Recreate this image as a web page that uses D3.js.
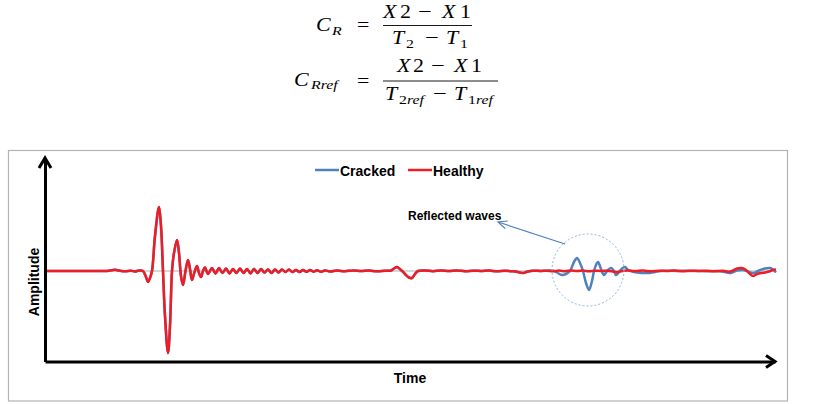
<!DOCTYPE html>
<html>
<head>
<meta charset="utf-8">
<script src="https://cdn.jsdelivr.net/npm/d3@7"></script>
<style>
  body { margin: 0; background: #fff; }
  svg { display: block; }
</style>
</head>
<body>
<svg id="chart" width="820" height="404"></svg>
<script>
// both traces coincide up to the reflection, so they share this part
const earlyTime = [0, 55, 62, 68, 72, 78, 84, 88, 92, 96, 99, 101, 103, 105, 108, 112, 114, 116, 118, 121,
  123, 125, 127, 130, 132, 134, 136, 138.5, 141, 143, 145, 147.5, 150, 152, 154, 156, 158, 161, 165, 168.5,
  172, 175.5, 179, 182.5, 186, 189.5, 193, 196.5, 200, 203.5, 207, 210.5, 214, 217.5, 221, 224.5, 228, 231.5,
  235, 238.5, 242, 245.5, 249, 252.5, 256, 259.5, 263, 266.5, 270, 274, 278, 283, 290, 298, 306, 314, 322,
  330, 338, 344, 347, 350, 354, 358, 362, 365, 368, 371, 378, 386, 394, 402, 410, 418, 426, 434, 442, 450,
  458, 466, 472, 476, 480, 486, 494, 500];
const earlyAmp = [0, 0, 0.3, 1.2, 0.5, -0.2, 0.3, -0.5, 0.4, 0, -6, -11, -7, 0, 35, 64, 45, 0, -45, -82,
  -55, 0, 18, 31, 18, -5, -14, 0, 11, 2, -9, -1, 5, -2, -6, 0, 3.5, -3, 3, -2.5,
  3, -2, 2.5, -2.5, 2, -2, 2.5, -2, 2, -2.5, 2, -2, 2, -1.5, 1.5, -2, 1.5, -1.5,
  1.5, -1, 1.5, -1, 1, -1, 1, -0.8, 1, -0.7, 0.8, -0.8, 0.6, -0.5, 0.5, -0.3, 0.6, 0, 0.5,
  -0.3, 0.3, 0.5, 2.5, 4, 1, -3, -6.5, -7, -3, 0, 0.6, -0.2, 0.5, 0, 0.6, -0.3, 0.3, 0, 0.4, -0.3,
  0.2, -0.3, -1.2, -2, -0.8, 0.3, 0, 0.3];

const healthyTime = [506, 512, 518, 524, 530, 536, 542, 548, 554, 560, 566, 570, 574, 580, 588, 596, 604, 612,
  620, 628, 636, 644, 652, 660, 668, 676, 682, 686, 690, 695, 699, 703, 706, 710, 714, 718, 722, 726, 729];
const healthyAmp = [-0.3, 0.4, -0.2, 0.5, 0, 0.4, -0.3, 0.3, 0, 0.3, -0.5, -1.2, -0.3, 0.4, 0, 0.4, -0.2, 0.3,
  0, 0.4, -0.2, 0.3, 0, 0.3, -0.2, 0.2, -0.8, 0.5, 2.5, 3, 1, -3, -5, -3, -2, -1.5, -0.5, 1, 1.5];

const crackedTime = [506, 510, 515, 519, 523, 527, 530, 533, 536, 539, 542, 545, 547, 549, 551, 554, 557, 560,
  564, 567, 569, 572, 575, 578, 581, 585, 590, 595, 602, 608, 614, 622, 630, 640, 650, 660, 670, 678, 684,
  690, 696, 702, 707, 712, 718, 723, 726, 729];
const crackedAmp = [0.5, -1.5, -4, -3, 0, 9, 13, 8, 0, -12, -19, -10, 0, 6, 9, 2, -4, 0,
  3, 0, -4, -1, 2.5, 4, 1, -0.5, -1.5, -2, -2, -1, 0, 0.3, 0, 0.3, 0, -0.3, 0, -1, -2,
  0.5, 1, -1, -2, 0.5, 2.5, 3, 1.5, -1.5];

const seriesNames = ["Cracked", "Healthy"];
const seriesColors = ["#4f81bd", "#ee1c24"];

const svg = d3.select("#chart");

// ---- formulas above the chart ----
// the reference formula image is a bit stretched sideways, hence the scale
const serif = "'Liberation Serif', 'DejaVu Serif', serif";
function piece(x, y, txt, italic, size) {
  return svg.append("text")
    .attr("transform", `translate(${x},${y}) scale(1.22,1)`)
    .attr("font-family", serif)
    .attr("font-size", size || 18)
    .attr("font-style", italic ? "italic" : "normal")
    .attr("fill", "#000")
    .text(txt);
}
function bar(x1, x2, y) {
  svg.append("line").attr("x1", x1).attr("x2", x2).attr("y1", y).attr("y2", y)
    .attr("stroke", "#000").attr("stroke-width", 0.9);
}
function sub(x, y, digit, rest) {
  const t = piece(x, y, digit, false, 13);
  t.append("tspan").attr("font-style", "italic").text(rest);
}

// C_R = (X2 - X1) / (T2 - T1)
piece(316, 31, "C", true);
piece(332, 35, "R", true, 13);
piece(357, 31, "=", false);
piece(383, 18, "X", true); piece(400, 18, "2"); piece(418, 18, "\u2212", false, 20);
piece(442, 18, "X", true); piece(460, 18, "1");
bar(383, 472, 25.5);
piece(392, 44, "T", true); piece(406, 48, "2", false, 13); piece(425, 44, "\u2212", false, 20);
piece(446, 44, "T", true); piece(460, 48, "1", false, 13);

// C_Rref = (X2 - X1) / (T2ref - T1ref)
piece(294, 86, "C", true);
piece(311, 89, "Rref", true, 13);
piece(357, 87, "=", false);
piece(397, 72, "X", true); piece(413, 72, "2"); piece(431, 72, "\u2212", false, 20);
piece(454, 72, "X", true); piece(471, 72, "1");
bar(383, 498, 81);
piece(385, 100, "T", true);
sub(399, 104, "2", "ref");
piece(433, 100, "\u2212", false, 20);
piece(454, 100, "T", true);
sub(468, 104, "1", "ref");

// ---- chart box ----
svg.append("rect")
  .attr("x", 8.5).attr("y", 150.5).attr("width", 779).attr("height", 250.5)
  .attr("fill", "#fff").attr("stroke", "#b3b3b3").attr("stroke-width", 1.2);

const x = d3.scaleLinear().domain([-2, 728]).range([45, 775]);
const y = d3.scaleLinear().domain([-90.5, 113]).range([361.5, 158]);

// zero line in light grey
svg.append("line")
  .attr("x1", x(-2)).attr("x2", x(728)).attr("y1", y(0)).attr("y2", y(0))
  .attr("stroke", "#c8c8c8").attr("stroke-width", 1.5);

const line = d3.line()
  .x(d => x(d[0]))
  .y(d => y(d[1]))
  .curve(d3.curveCatmullRom.alpha(0.5));

const early = earlyTime.map((t, i) => [t, earlyAmp[i]]);
const cracked = early.concat(crackedTime.map((t, i) => [t, crackedAmp[i]]));
const healthy = early.concat(healthyTime.map((t, i) => [t, healthyAmp[i]]));

svg.append("path").datum(cracked)
  .attr("d", line).attr("fill", "none")
  .attr("stroke", seriesColors[0]).attr("stroke-width", 2.5).attr("stroke-linejoin", "round");
svg.append("path").datum(healthy)
  .attr("d", line).attr("fill", "none")
  .attr("stroke", seriesColors[1]).attr("stroke-width", 2.5).attr("stroke-linejoin", "round");

// ---- axes with arrow heads, no ticks ----
svg.append("g")
  .attr("transform", "translate(0," + y(-90.5) + ")")
  .call(d3.axisBottom(x).tickValues([]).tickSizeOuter(0));
svg.append("g")
  .attr("transform", "translate(" + x(-2) + ",0)")
  .call(d3.axisLeft(y).tickValues([]).tickSizeOuter(0));
svg.selectAll(".domain").attr("stroke", "#000").attr("stroke-width", 3);

const x0 = x(-2), y0 = y(-90.5), xEnd = x(728), yEnd = y(113);
svg.append("path")
  .attr("d", `M${xEnd - 9},${y0 - 6}L${xEnd},${y0}L${xEnd - 9},${y0 + 6}`)
  .attr("fill", "none").attr("stroke", "#000").attr("stroke-width", 3);
svg.append("path")
  .attr("d", `M${x0 - 6},${yEnd + 10}L${x0},${yEnd}L${x0 + 6},${yEnd + 10}`)
  .attr("fill", "none").attr("stroke", "#000").attr("stroke-width", 3);

const sans = "'Liberation Sans', Arial, sans-serif";
svg.append("text")
  .attr("x", 410).attr("y", 383)
  .attr("text-anchor", "middle")
  .attr("font-family", sans).attr("font-weight", "bold").attr("font-size", 14)
  .text("Time");
svg.append("text")
  .attr("transform", "translate(39,282) rotate(-90)")
  .attr("text-anchor", "middle")
  .attr("font-family", sans).attr("font-weight", "bold").attr("font-size", 14)
  .text("Amplitude");

// ---- legend ----
const legendX = [315, 408];
seriesNames.forEach((name, i) => {
  svg.append("line")
    .attr("x1", legendX[i]).attr("x2", legendX[i] + 24).attr("y1", 170).attr("y2", 170)
    .attr("stroke", seriesColors[i]).attr("stroke-width", 2.5);
  svg.append("text")
    .attr("x", legendX[i] + 25).attr("y", 176)
    .attr("font-family", sans).attr("font-weight", "bold").attr("font-size", 14)
    .attr("fill", "#000")
    .text(name);
});

// ---- annotation: circle around the reflected waves ----
const cx = x(541), cy = y(1);
svg.append("circle")
  .attr("cx", cx).attr("cy", cy).attr("r", 36)
  .attr("fill", "none").attr("stroke", "#8db4e2").attr("stroke-width", 1)
  .attr("stroke-dasharray", "2,2");

const tip = [498, 222], from = [565, 244];
const len = Math.hypot(from[0] - tip[0], from[1] - tip[1]);
const ux = (from[0] - tip[0]) / len, uy = (from[1] - tip[1]) / len;
svg.append("line")
  .attr("x1", from[0]).attr("y1", from[1]).attr("x2", tip[0]).attr("y2", tip[1])
  .attr("stroke", "#4f81bd").attr("stroke-width", 1.2);
svg.append("path")
  .attr("d", `M${tip[0] + 9 * ux - 4 * uy},${tip[1] + 9 * uy + 4 * ux}L${tip[0]},${tip[1]}L${tip[0] + 9 * ux + 4 * uy},${tip[1] + 9 * uy - 4 * ux}`)
  .attr("fill", "none").attr("stroke", "#4f81bd").attr("stroke-width", 1.2);

svg.append("text")
  .attr("x", 408).attr("y", 220)
  .attr("font-family", sans).attr("font-weight", "bold").attr("font-size", 12)
  .attr("fill", "#000")
  .text("Reflected waves");
</script>
</body>
</html>
